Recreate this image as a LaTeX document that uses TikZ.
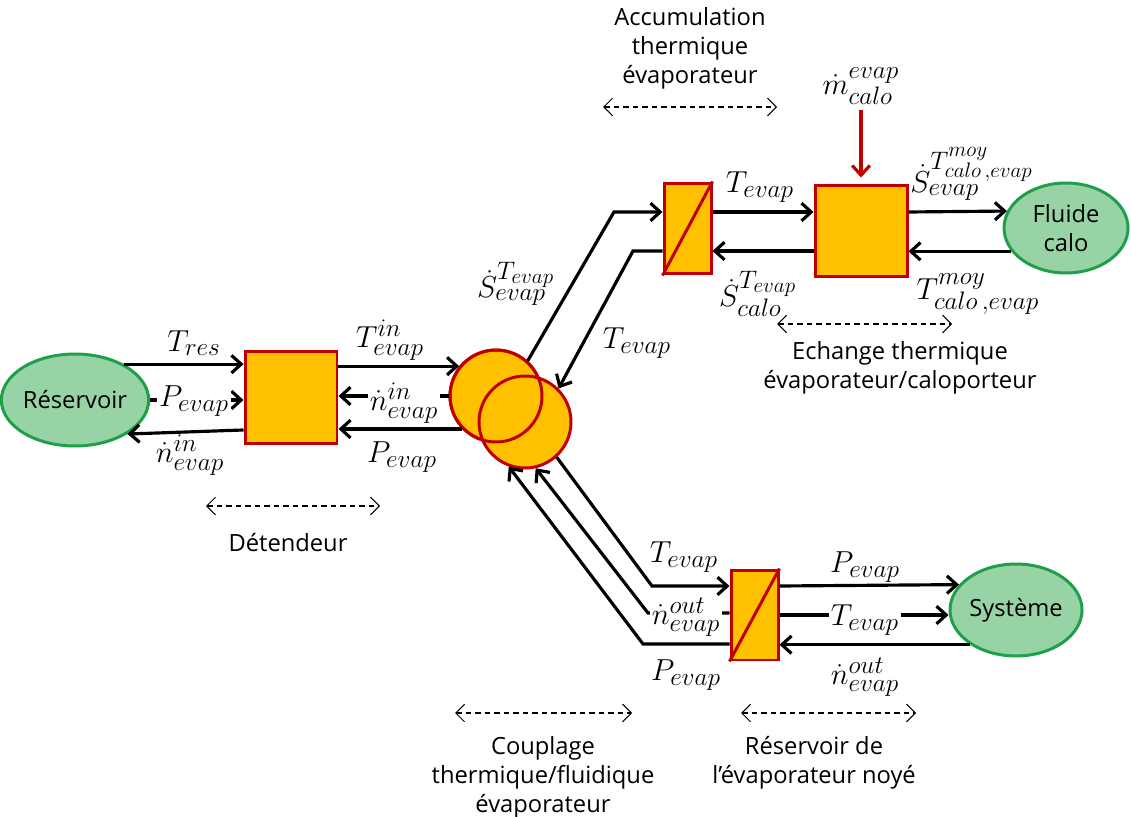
\documentclass[tikz,border=0pt]{standalone}
\usepackage{fontspec}
\setmainfont{Open Sans}
\DeclareMathSizes{17.28}{17.28}{14.4}{12}
\usetikzlibrary{arrows.meta,shapes.geometric,calc}
\definecolor{boxfill}{RGB}{255,192,0}
\definecolor{boxdraw}{RGB}{192,0,0}
\definecolor{ellfill}{RGB}{152,211,165}
\definecolor{elldraw}{RGB}{30,160,75}
\begin{document}
\begin{tikzpicture}[x=0.02cm,y=-0.02cm,
  blockbox/.style={draw=boxdraw,fill=boxfill,line width=1.7pt,minimum width=1.84cm,minimum height=1.84cm,inner sep=0pt},
  thinbox/.style={draw=boxdraw,fill=boxfill,line width=1.7pt,minimum width=0.94cm,minimum height=1.82cm,inner sep=0pt},
  ring/.style={circle,draw=boxdraw,line width=1.7pt,minimum size=1.84cm,inner sep=0pt},
  ext/.style={ellipse,draw=elldraw,fill=ellfill,line width=1.7pt,minimum width=2.64cm,minimum height=1.84cm,inner sep=0pt,font=\fontsize{13.5}{16.5}\selectfont,align=center},
  arr/.style={line width=1.8pt,-{Straight Barb[length=5.5pt,width=10pt]}},
  redarr/.style={line width=1.8pt,boxdraw,-{Straight Barb[length=5.5pt,width=10pt]}},
  dasharr/.style={line width=0.6pt,dash pattern=on 3.2pt off 2.2pt,{Straight Barb[length=5pt,width=10pt]}-{Straight Barb[length=5pt,width=10pt]}},
  ml/.style={font=\fontsize{17.28}{20}\selectfont,inner sep=1pt},
  mlw/.style={ml,fill=white},
  txt/.style={font=\fontsize{13.5}{16.5}\selectfont,align=center,inner sep=0pt}
]
\useasboundingbox (0,0) rectangle (1131,817);

% blocks
\node[ext] (res) at (75,400) {Réservoir};
\node[blockbox] (det) at (291,397.5) {};
\node[ring,fill=boxfill] (c1) at (496,396) {};
\node[ring,fill=boxfill] (c2) at (525,422) {};
\node[ring] (c1o) at (496,396) {};
\node[thinbox] (sb1) at (687.5,228.5) {};
\draw[boxdraw,line width=1.7pt] (sb1.south west) -- (sb1.north east);
\node[blockbox] (box2) at (861,231) {};
\node[ext,minimum width=2.48cm,minimum height=1.8cm] (fl) at (1066,228) {Fluide\\calo};
\node[thinbox,minimum height=1.8cm] (sb2) at (754.5,615) {};
\draw[boxdraw,line width=1.7pt] (sb2.south west) -- (sb2.north east);
\node[ext] (sys) at (1016,610) {Système};

% coordinates for bends
\coordinate (k1) at (614,212);
\coordinate (k2) at (633,251);
\coordinate (k3) at (652,586);
\coordinate (k4) at (648,613);
\coordinate (k5) at (643,644);
\coordinate (m) at (861,110);

% left part
\draw[arr] (res.36) -- (res.36 -| det.west);
\draw[arr] (res.east) -- (res.east -| det.west);
\draw[arr] ($(det.south west)+(0,-15)$) -- (res.-33);
\draw[arr] (c1.141 -| det.east) -- (c1.141);
\draw[arr] (c1.west) -- (c1.west -| det.east);
\draw[arr] (c1.224) -- (c1.224 -| det.east);

% top part
\draw[arr] (c1.48) -- (k1) -- (k1 -| sb1.west);
\draw[arr] (k2 -| sb1.west) -- (k2) -- (c2.45);
\draw[arr] (k1 -| sb1.east) -- (k1 -| box2.west);
\draw[arr] (k2 -| box2.west) -- (k2 -| sb1.east);
\draw[arr] (k1 -| box2.east) -- (fl.164.6);
\draw[arr] (fl.203.3) -- (fl.203.3 -| box2.east);
\draw[redarr] (m) -- ($(box2.north)+(0,-6)$);

% bottom part
\draw[arr] (c2.-48) -- (k3) -- (k3 -| sb2.west);
\draw[arr] (k4 -| sb2.west) -- (k4) -- (c2.-77);
\draw[arr] (k5 -| sb2.west) -- (k5) -- (c2.-110);
\draw[arr] (k3 -| sb2.east) -- (sys.156.9);
\draw[arr] (sb2.east) -- (sb2.east -| sys.west);
\draw[arr] (sys.217.4) -- (sys.217.4 -| sb2.east);

% labels
\node[ml] (l1) at (194,343) {$T_{res}$};
\node[mlw] (l2) at (194,401) {$P_{evap}$};
\node[ml] (l3) at (190,455) {$\dot n^{in}_{evap}$};
\node[ml] (l4) at (390,340) {$T^{in}_{evap}$};
\node[mlw] (l5) at (404,403) {$\dot n^{in}_{evap}$};
\node[ml] (l6) at (402,457) {$P_{evap}$};
\node[ml] (l7) at (516,284) {$\dot S^{T_{evap}}_{evap}$};
\node[ml] (l8) at (637,343) {$T_{evap}$};
\node[ml] (l9) at (760,187) {$T_{evap}$};
\node[ml] (l10) at (758,294) {$\dot S^{T_{evap}}_{calo}$};
\node[ml] (l11) at (861,86) {$\dot m^{evap}_{calo}$};
\node[ml] (l12) at (972,174) {$\dot S^{T^{moy}_{calo\,,evap}}_{evap}$};
\node[ml] (l13) at (978,294) {$T^{moy}_{calo\,,evap}$};
\node[ml] (l14) at (684,557) {$T_{evap}$};
\node[mlw] (l15) at (686,617) {$\dot n^{out}_{evap}$};
\node[ml] (l16) at (686,675) {$P_{evap}$};
\node[ml] (l17) at (865,567) {$P_{evap}$};
\node[mlw] (l18) at (865,620) {$T_{evap}$};
\node[ml] (l19) at (865,677) {$\dot n^{out}_{evap}$};

% zone annotations
\coordinate (a1) at (603,107); \coordinate (a2) at (777,107);
\draw[dasharr] (a1) -- (a2);
\node[txt] (tacc) at (690,48) {Accumulation\\thermique\\évaporateur};
\coordinate (b1) at (206,506); \coordinate (b2) at (380,506);
\draw[dasharr] (b1) -- (b2);
\node[txt] (tdet) at (288,543) {Détendeur};
\coordinate (e1) at (777,324); \coordinate (e2) at (952,324);
\draw[dasharr] (e1) -- (e2);
\node[txt] (tech) at (900,368) {Echange thermique\\évaporateur/caloporteur};
\coordinate (f1) at (455,713); \coordinate (f2) at (632,713);
\draw[dasharr] (f1) -- (f2);
\node[txt] (tcoup) at (543,777) {Couplage\\thermique/fluidique\\évaporateur};
\coordinate (g1) at (741,713); \coordinate (g2) at (916,713);
\draw[dasharr] (g1) -- (g2);
\node[txt] (tres) at (814,763) {Réservoir de\\l’évaporateur noyé};
\end{tikzpicture}
\end{document}
